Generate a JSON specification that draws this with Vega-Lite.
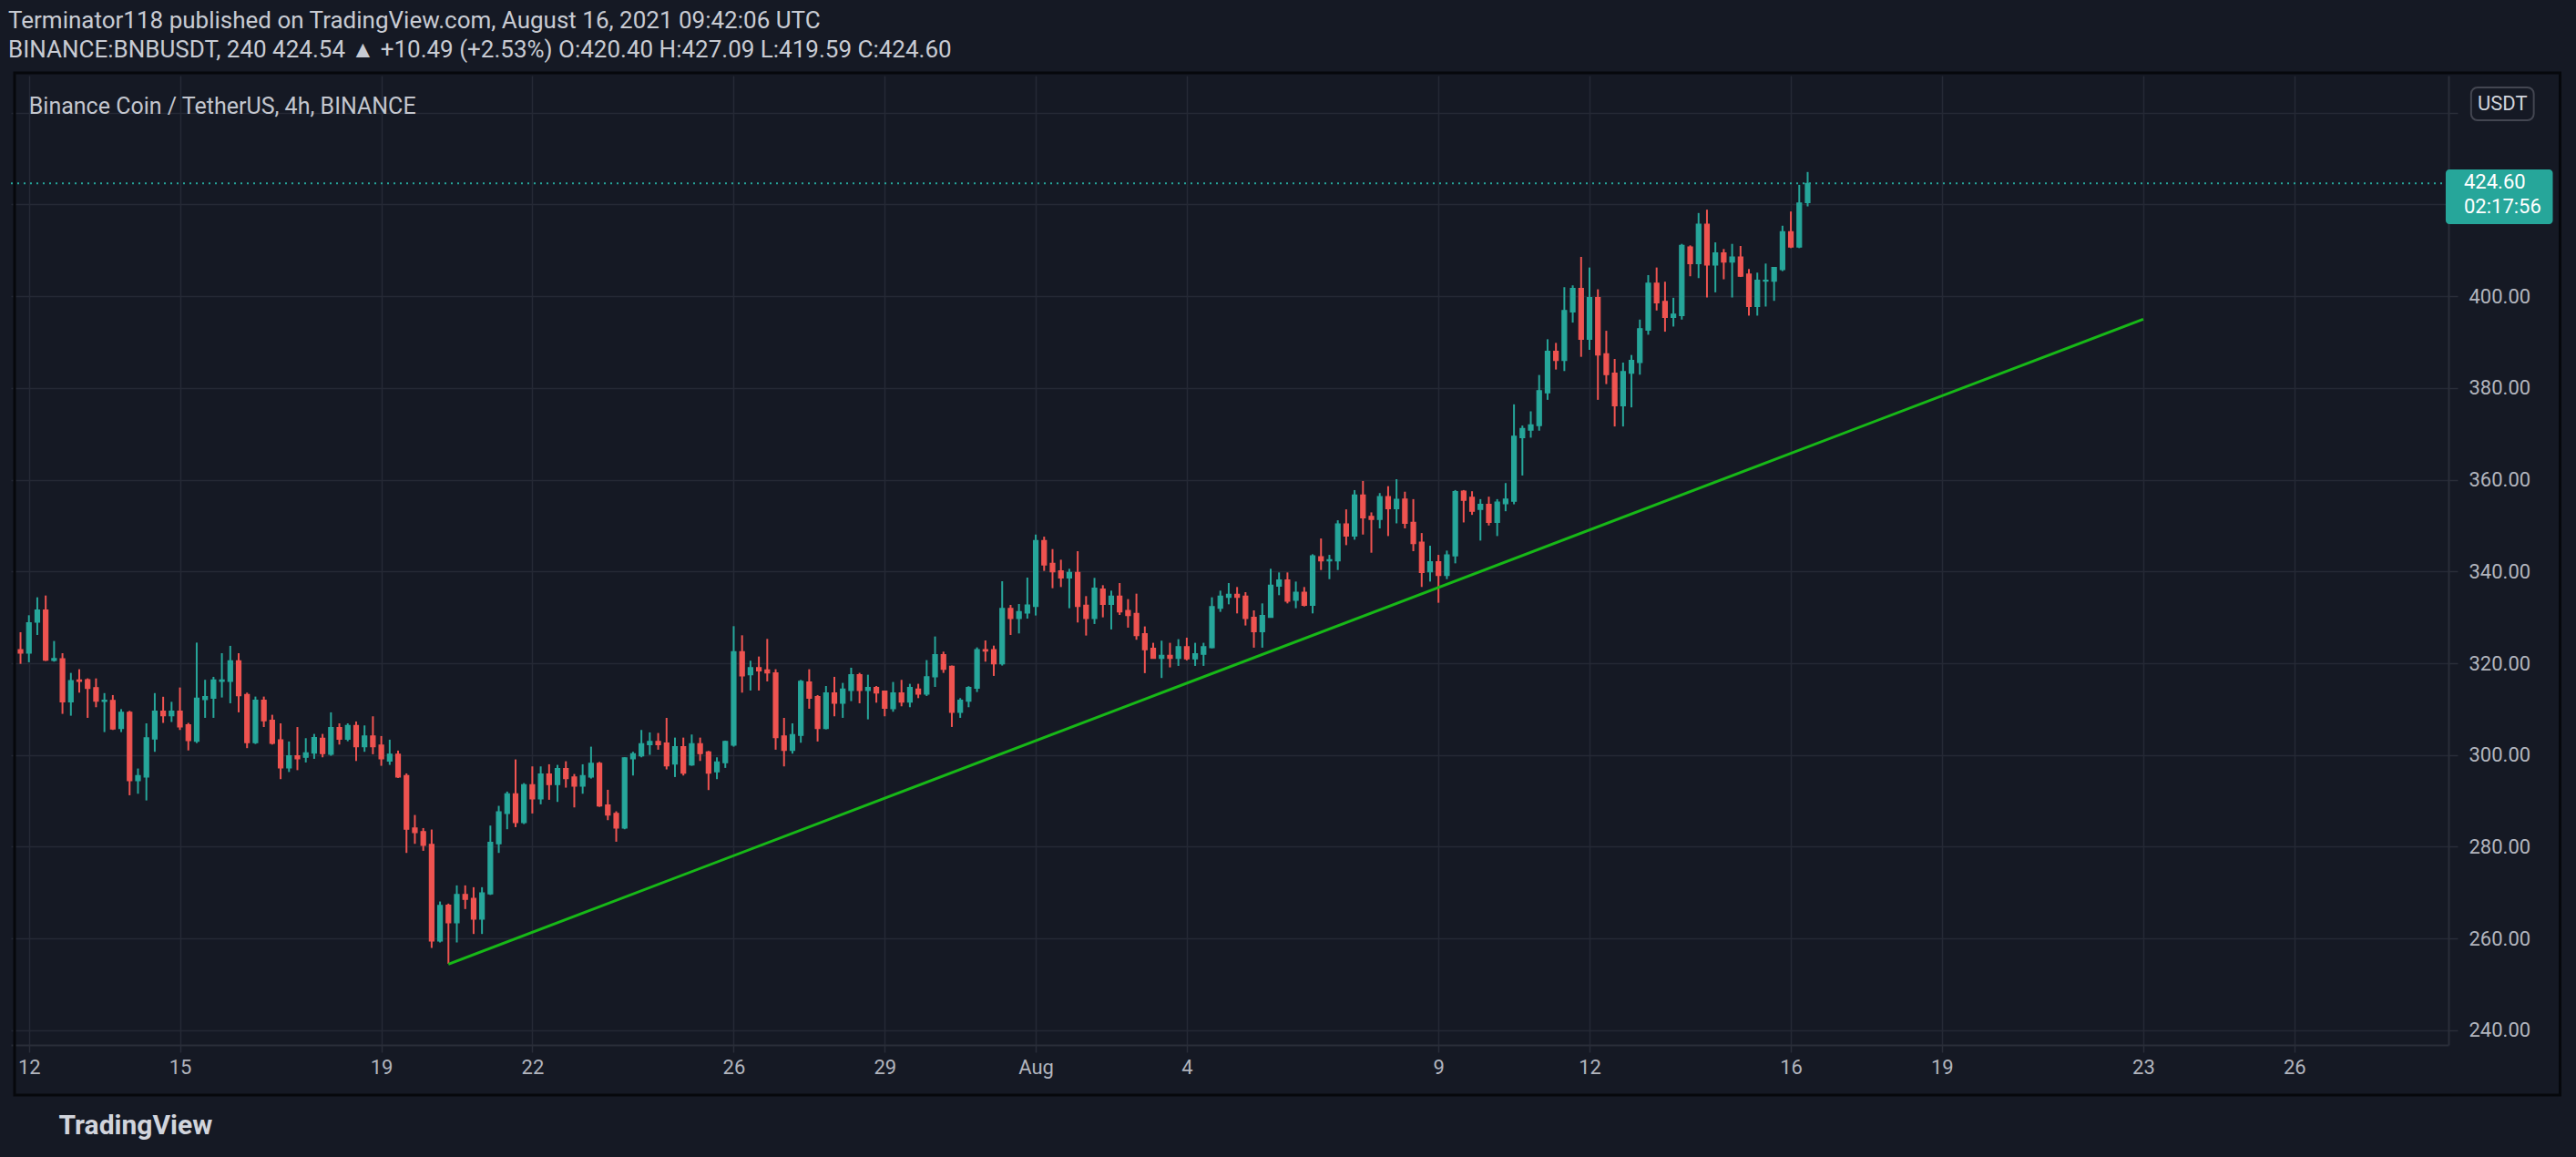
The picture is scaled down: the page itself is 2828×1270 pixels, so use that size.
{
  "$schema": "https://vega.github.io/schema/vega-lite/v6.json",
  "width": 2676,
  "height": 1064,
  "autosize": {"type": "none"},
  "padding": {"left": 12, "top": 83, "right": 140, "bottom": 123},
  "background": "#151924",
  "config": {"view": {"stroke": null}, "font": "Roboto"},
  "title": {
    "text": "Terminator118 published on TradingView.com, August 16, 2021 09:42:06 UTC",
    "subtitle": "BINANCE:BNBUSDT, 240  424.54 ▲ +10.49 (+2.53%)  O:420.40  H:427.09  L:419.59  C:424.60",
    "anchor": "start",
    "frame": "group",
    "orient": "top",
    "offset": 10,
    "dx": -3,
    "font": "Roboto",
    "fontSize": 26,
    "fontWeight": "normal",
    "color": "#c8cbd3",
    "subtitleFont": "Roboto",
    "subtitleFontSize": 26,
    "subtitleColor": "#c8cbd3",
    "subtitlePadding": 6
  },
  "datasets": {
    "candles": [
      {"t":"2021-07-11T20:00:00Z","o":322.99,"h":326.77,"l":319.88,"c":322.20},
      {"t":"2021-07-12T00:00:00Z","o":322.20,"h":330.47,"l":320.22,"c":328.82},
      {"t":"2021-07-12T04:00:00Z","o":328.95,"h":334.38,"l":326.17,"c":331.60},
      {"t":"2021-07-12T08:00:00Z","o":331.60,"h":334.77,"l":320.50,"c":320.68},
      {"t":"2021-07-12T12:00:00Z","o":320.61,"h":324.85,"l":320.35,"c":321.01},
      {"t":"2021-07-12T16:00:00Z","o":321.00,"h":322.20,"l":308.97,"c":311.61},
      {"t":"2021-07-12T20:00:00Z","o":311.61,"h":317.90,"l":308.57,"c":316.24},
      {"t":"2021-07-13T00:00:00Z","o":316.38,"h":318.70,"l":313.60,"c":316.05},
      {"t":"2021-07-13T04:00:00Z","o":316.40,"h":316.71,"l":308.10,"c":314.52},
      {"t":"2021-07-13T08:00:00Z","o":314.70,"h":316.70,"l":310.42,"c":311.75},
      {"t":"2021-07-13T12:00:00Z","o":311.68,"h":313.50,"l":305.00,"c":311.94},
      {"t":"2021-07-13T16:00:00Z","o":311.90,"h":313.07,"l":305.46,"c":305.66},
      {"t":"2021-07-13T20:00:00Z","o":305.80,"h":310.00,"l":305.00,"c":309.30},
      {"t":"2021-07-14T00:00:00Z","o":309.30,"h":309.63,"l":291.23,"c":294.40},
      {"t":"2021-07-14T04:00:00Z","o":294.40,"h":297.06,"l":291.56,"c":295.50},
      {"t":"2021-07-14T08:00:00Z","o":295.20,"h":306.90,"l":290.10,"c":303.74},
      {"t":"2021-07-14T12:00:00Z","o":303.50,"h":313.50,"l":300.70,"c":309.56},
      {"t":"2021-07-14T16:00:00Z","o":309.56,"h":312.70,"l":307.00,"c":308.57},
      {"t":"2021-07-14T20:00:00Z","o":308.57,"h":311.60,"l":307.20,"c":309.56},
      {"t":"2021-07-15T00:00:00Z","o":309.56,"h":314.72,"l":305.46,"c":306.12},
      {"t":"2021-07-15T04:00:00Z","o":306.60,"h":307.00,"l":301.00,"c":303.15},
      {"t":"2021-07-15T08:00:00Z","o":303.00,"h":324.50,"l":302.60,"c":312.40},
      {"t":"2021-07-15T12:00:00Z","o":312.08,"h":316.40,"l":308.10,"c":312.74},
      {"t":"2021-07-15T16:00:00Z","o":312.40,"h":317.04,"l":308.10,"c":316.38},
      {"t":"2021-07-15T20:00:00Z","o":316.05,"h":322.20,"l":312.54,"c":316.38},
      {"t":"2021-07-16T00:00:00Z","o":316.05,"h":323.80,"l":311.28,"c":320.55},
      {"t":"2021-07-16T04:00:00Z","o":320.55,"h":322.20,"l":309.30,"c":312.93},
      {"t":"2021-07-16T08:00:00Z","o":313.20,"h":313.60,"l":301.50,"c":302.68},
      {"t":"2021-07-16T12:00:00Z","o":302.68,"h":312.74,"l":302.40,"c":311.94},
      {"t":"2021-07-16T16:00:00Z","o":311.94,"h":312.74,"l":306.10,"c":307.45},
      {"t":"2021-07-16T20:00:00Z","o":307.60,"h":308.77,"l":302.28,"c":302.55},
      {"t":"2021-07-17T00:00:00Z","o":303.30,"h":306.90,"l":294.74,"c":297.19},
      {"t":"2021-07-17T04:00:00Z","o":297.19,"h":302.95,"l":296.30,"c":299.84},
      {"t":"2021-07-17T08:00:00Z","o":299.84,"h":306.10,"l":296.70,"c":299.17},
      {"t":"2021-07-17T12:00:00Z","o":299.50,"h":303.67,"l":298.38,"c":300.50},
      {"t":"2021-07-17T16:00:00Z","o":300.40,"h":304.60,"l":299.17,"c":303.80},
      {"t":"2021-07-17T20:00:00Z","o":303.67,"h":304.60,"l":299.50,"c":300.30},
      {"t":"2021-07-18T00:00:00Z","o":300.17,"h":309.30,"l":299.84,"c":305.99},
      {"t":"2021-07-18T04:00:00Z","o":306.00,"h":306.90,"l":302.28,"c":303.47},
      {"t":"2021-07-18T08:00:00Z","o":303.47,"h":306.90,"l":303.00,"c":306.45},
      {"t":"2021-07-18T12:00:00Z","o":306.45,"h":307.31,"l":298.70,"c":301.82},
      {"t":"2021-07-18T16:00:00Z","o":301.82,"h":306.45,"l":300.70,"c":304.14},
      {"t":"2021-07-18T20:00:00Z","o":304.14,"h":308.44,"l":300.17,"c":301.82},
      {"t":"2021-07-19T00:00:00Z","o":302.15,"h":304.14,"l":297.65,"c":299.17},
      {"t":"2021-07-19T04:00:00Z","o":298.70,"h":303.34,"l":297.85,"c":300.17},
      {"t":"2021-07-19T08:00:00Z","o":300.17,"h":300.96,"l":295.00,"c":295.20},
      {"t":"2021-07-19T12:00:00Z","o":295.50,"h":295.99,"l":278.66,"c":283.82},
      {"t":"2021-07-19T16:00:00Z","o":284.08,"h":286.93,"l":280.64,"c":283.10},
      {"t":"2021-07-19T20:00:00Z","o":283.30,"h":284.08,"l":279.12,"c":280.30},
      {"t":"2021-07-20T00:00:00Z","o":280.50,"h":283.76,"l":257.95,"c":259.47},
      {"t":"2021-07-20T04:00:00Z","o":259.47,"h":268.07,"l":259.14,"c":267.21},
      {"t":"2021-07-20T08:00:00Z","o":267.28,"h":267.61,"l":254.50,"c":263.44},
      {"t":"2021-07-20T12:00:00Z","o":263.44,"h":271.58,"l":259.14,"c":269.60},
      {"t":"2021-07-20T16:00:00Z","o":269.60,"h":271.58,"l":266.42,"c":268.53},
      {"t":"2021-07-20T20:00:00Z","o":268.73,"h":271.18,"l":260.99,"c":264.24},
      {"t":"2021-07-21T00:00:00Z","o":264.24,"h":271.18,"l":260.99,"c":269.93},
      {"t":"2021-07-21T04:00:00Z","o":269.73,"h":284.62,"l":269.50,"c":280.98},
      {"t":"2021-07-21T08:00:00Z","o":280.65,"h":288.92,"l":278.66,"c":287.60},
      {"t":"2021-07-21T12:00:00Z","o":287.26,"h":292.03,"l":283.82,"c":291.56},
      {"t":"2021-07-21T16:00:00Z","o":291.56,"h":299.04,"l":284.28,"c":285.28},
      {"t":"2021-07-21T20:00:00Z","o":285.28,"h":293.88,"l":284.95,"c":293.55},
      {"t":"2021-07-22T00:00:00Z","o":293.55,"h":297.52,"l":287.26,"c":290.44},
      {"t":"2021-07-22T04:00:00Z","o":290.44,"h":297.52,"l":289.25,"c":295.86},
      {"t":"2021-07-22T08:00:00Z","o":295.86,"h":297.98,"l":290.24,"c":293.55},
      {"t":"2021-07-22T12:00:00Z","o":293.55,"h":297.85,"l":289.78,"c":297.06},
      {"t":"2021-07-22T16:00:00Z","o":297.06,"h":298.64,"l":292.89,"c":294.87},
      {"t":"2021-07-22T20:00:00Z","o":295.20,"h":295.86,"l":288.58,"c":293.22},
      {"t":"2021-07-23T00:00:00Z","o":293.22,"h":297.98,"l":291.56,"c":295.53},
      {"t":"2021-07-23T04:00:00Z","o":295.20,"h":301.82,"l":294.87,"c":298.18},
      {"t":"2021-07-23T08:00:00Z","o":298.18,"h":298.50,"l":288.70,"c":288.92},
      {"t":"2021-07-23T12:00:00Z","o":289.10,"h":292.42,"l":285.80,"c":286.93},
      {"t":"2021-07-23T16:00:00Z","o":287.26,"h":287.73,"l":281.10,"c":284.08},
      {"t":"2021-07-23T20:00:00Z","o":284.08,"h":299.50,"l":283.82,"c":299.37},
      {"t":"2021-07-24T00:00:00Z","o":299.17,"h":300.70,"l":295.53,"c":300.30},
      {"t":"2021-07-24T04:00:00Z","o":299.84,"h":305.46,"l":299.50,"c":302.48},
      {"t":"2021-07-24T08:00:00Z","o":302.28,"h":304.93,"l":300.04,"c":302.95},
      {"t":"2021-07-24T12:00:00Z","o":302.95,"h":304.80,"l":301.16,"c":302.28},
      {"t":"2021-07-24T16:00:00Z","o":302.61,"h":308.10,"l":296.86,"c":297.65},
      {"t":"2021-07-24T20:00:00Z","o":298.05,"h":303.80,"l":295.20,"c":301.82},
      {"t":"2021-07-25T00:00:00Z","o":301.82,"h":303.80,"l":295.53,"c":296.06},
      {"t":"2021-07-25T04:00:00Z","o":297.85,"h":304.47,"l":297.65,"c":302.48},
      {"t":"2021-07-25T08:00:00Z","o":302.48,"h":303.80,"l":298.71,"c":300.30},
      {"t":"2021-07-25T12:00:00Z","o":300.70,"h":300.90,"l":292.36,"c":296.06},
      {"t":"2021-07-25T16:00:00Z","o":296.33,"h":299.50,"l":294.74,"c":298.51},
      {"t":"2021-07-25T20:00:00Z","o":298.31,"h":303.14,"l":297.19,"c":302.95},
      {"t":"2021-07-26T00:00:00Z","o":302.15,"h":328.09,"l":301.82,"c":322.53},
      {"t":"2021-07-26T04:00:00Z","o":322.53,"h":326.10,"l":313.60,"c":317.24},
      {"t":"2021-07-26T08:00:00Z","o":317.50,"h":320.55,"l":314.06,"c":319.03},
      {"t":"2021-07-26T12:00:00Z","o":319.03,"h":321.47,"l":314.06,"c":318.36},
      {"t":"2021-07-26T16:00:00Z","o":318.56,"h":325.31,"l":316.05,"c":317.90},
      {"t":"2021-07-26T20:00:00Z","o":317.90,"h":318.70,"l":301.16,"c":303.80},
      {"t":"2021-07-27T00:00:00Z","o":304.14,"h":308.10,"l":297.52,"c":301.03},
      {"t":"2021-07-27T04:00:00Z","o":301.03,"h":306.90,"l":300.30,"c":304.47},
      {"t":"2021-07-27T08:00:00Z","o":304.27,"h":316.38,"l":302.68,"c":316.05},
      {"t":"2021-07-27T12:00:00Z","o":315.92,"h":318.70,"l":310.09,"c":312.40},
      {"t":"2021-07-27T16:00:00Z","o":312.74,"h":313.07,"l":302.95,"c":305.79},
      {"t":"2021-07-27T20:00:00Z","o":305.79,"h":315.05,"l":305.59,"c":313.53},
      {"t":"2021-07-28T00:00:00Z","o":313.53,"h":317.04,"l":308.44,"c":311.28},
      {"t":"2021-07-28T04:00:00Z","o":311.28,"h":315.72,"l":308.10,"c":314.39},
      {"t":"2021-07-28T08:00:00Z","o":314.06,"h":319.03,"l":311.75,"c":317.50},
      {"t":"2021-07-28T12:00:00Z","o":317.50,"h":317.90,"l":311.28,"c":314.06},
      {"t":"2021-07-28T16:00:00Z","o":314.06,"h":317.50,"l":307.77,"c":314.72},
      {"t":"2021-07-28T20:00:00Z","o":314.72,"h":315.05,"l":311.41,"c":313.53},
      {"t":"2021-07-29T00:00:00Z","o":313.93,"h":314.06,"l":308.44,"c":310.22},
      {"t":"2021-07-29T04:00:00Z","o":310.09,"h":315.92,"l":309.43,"c":313.53},
      {"t":"2021-07-29T08:00:00Z","o":313.53,"h":316.38,"l":310.62,"c":311.55},
      {"t":"2021-07-29T12:00:00Z","o":311.55,"h":315.52,"l":310.42,"c":314.72},
      {"t":"2021-07-29T16:00:00Z","o":314.39,"h":315.52,"l":312.40,"c":313.27},
      {"t":"2021-07-29T20:00:00Z","o":313.27,"h":320.68,"l":312.87,"c":317.04},
      {"t":"2021-07-30T00:00:00Z","o":317.04,"h":325.84,"l":314.85,"c":321.87},
      {"t":"2021-07-30T04:00:00Z","o":321.87,"h":322.53,"l":317.90,"c":318.70},
      {"t":"2021-07-30T08:00:00Z","o":319.35,"h":319.50,"l":306.12,"c":309.30},
      {"t":"2021-07-30T12:00:00Z","o":309.30,"h":312.40,"l":308.10,"c":311.94},
      {"t":"2021-07-30T16:00:00Z","o":311.75,"h":315.00,"l":310.42,"c":314.72},
      {"t":"2021-07-30T20:00:00Z","o":314.59,"h":323.46,"l":313.73,"c":322.99},
      {"t":"2021-07-31T00:00:00Z","o":322.99,"h":324.98,"l":320.35,"c":322.66},
      {"t":"2021-07-31T04:00:00Z","o":322.99,"h":323.85,"l":317.24,"c":319.88},
      {"t":"2021-07-31T08:00:00Z","o":319.88,"h":337.88,"l":319.50,"c":331.93},
      {"t":"2021-07-31T12:00:00Z","o":331.93,"h":332.72,"l":326.17,"c":329.74},
      {"t":"2021-07-31T16:00:00Z","o":329.74,"h":332.92,"l":326.50,"c":331.27},
      {"t":"2021-07-31T20:00:00Z","o":330.93,"h":338.68,"l":329.74,"c":332.72},
      {"t":"2021-08-01T00:00:00Z","o":332.39,"h":348.06,"l":330.41,"c":346.74},
      {"t":"2021-08-01T04:00:00Z","o":346.74,"h":347.60,"l":340.13,"c":341.45},
      {"t":"2021-08-01T08:00:00Z","o":341.78,"h":344.89,"l":336.36,"c":339.93},
      {"t":"2021-08-01T12:00:00Z","o":340.13,"h":342.57,"l":336.62,"c":338.61},
      {"t":"2021-08-01T16:00:00Z","o":338.61,"h":340.59,"l":332.00,"c":339.80},
      {"t":"2021-08-01T20:00:00Z","o":339.80,"h":344.43,"l":328.89,"c":332.39},
      {"t":"2021-08-02T00:00:00Z","o":332.66,"h":334.64,"l":326.04,"c":329.75},
      {"t":"2021-08-02T04:00:00Z","o":329.75,"h":338.61,"l":328.56,"c":336.36},
      {"t":"2021-08-02T08:00:00Z","o":336.16,"h":337.02,"l":330.01,"c":332.85},
      {"t":"2021-08-02T12:00:00Z","o":332.85,"h":335.83,"l":327.37,"c":334.64},
      {"t":"2021-08-02T16:00:00Z","o":334.64,"h":337.48,"l":330.54,"c":331.20},
      {"t":"2021-08-02T20:00:00Z","o":331.53,"h":333.98,"l":327.76,"c":330.41},
      {"t":"2021-08-03T00:00:00Z","o":330.87,"h":335.17,"l":325.12,"c":326.04},
      {"t":"2021-08-03T04:00:00Z","o":326.44,"h":328.03,"l":317.85,"c":322.94},
      {"t":"2021-08-03T08:00:00Z","o":323.27,"h":324.46,"l":321.00,"c":321.09},
      {"t":"2021-08-03T12:00:00Z","o":321.09,"h":324.92,"l":316.79,"c":321.75},
      {"t":"2021-08-03T16:00:00Z","o":321.75,"h":324.46,"l":319.10,"c":321.09},
      {"t":"2021-08-03T20:00:00Z","o":321.09,"h":325.25,"l":319.43,"c":323.60},
      {"t":"2021-08-04T00:00:00Z","o":323.60,"h":325.58,"l":320.62,"c":320.95},
      {"t":"2021-08-04T04:00:00Z","o":320.95,"h":324.46,"l":319.43,"c":322.08},
      {"t":"2021-08-04T08:00:00Z","o":321.95,"h":324.46,"l":319.43,"c":323.60},
      {"t":"2021-08-04T12:00:00Z","o":323.40,"h":334.38,"l":323.27,"c":332.33},
      {"t":"2021-08-04T16:00:00Z","o":332.00,"h":335.83,"l":331.20,"c":334.64},
      {"t":"2021-08-04T20:00:00Z","o":334.38,"h":337.48,"l":332.85,"c":335.04},
      {"t":"2021-08-05T00:00:00Z","o":335.04,"h":336.62,"l":330.87,"c":334.38},
      {"t":"2021-08-05T04:00:00Z","o":334.64,"h":335.50,"l":328.23,"c":329.75},
      {"t":"2021-08-05T08:00:00Z","o":330.01,"h":331.53,"l":323.40,"c":326.90},
      {"t":"2021-08-05T12:00:00Z","o":326.90,"h":333.05,"l":323.40,"c":330.41},
      {"t":"2021-08-05T16:00:00Z","o":330.01,"h":340.59,"l":330.00,"c":337.02},
      {"t":"2021-08-05T20:00:00Z","o":336.82,"h":339.80,"l":334.84,"c":338.15},
      {"t":"2021-08-06T00:00:00Z","o":338.15,"h":339.80,"l":333.05,"c":333.52},
      {"t":"2021-08-06T04:00:00Z","o":333.72,"h":337.81,"l":332.00,"c":335.50},
      {"t":"2021-08-06T08:00:00Z","o":335.50,"h":336.62,"l":332.39,"c":332.66},
      {"t":"2021-08-06T12:00:00Z","o":332.66,"h":343.77,"l":330.87,"c":343.43},
      {"t":"2021-08-06T16:00:00Z","o":343.24,"h":347.20,"l":340.33,"c":342.31},
      {"t":"2021-08-06T20:00:00Z","o":342.31,"h":343.63,"l":338.34,"c":342.57},
      {"t":"2021-08-07T00:00:00Z","o":342.31,"h":351.17,"l":340.33,"c":350.38},
      {"t":"2021-08-07T04:00:00Z","o":350.38,"h":353.55,"l":345.75,"c":347.73},
      {"t":"2021-08-07T08:00:00Z","o":347.73,"h":357.75,"l":346.94,"c":356.66},
      {"t":"2021-08-07T12:00:00Z","o":356.66,"h":359.74,"l":348.06,"c":351.70},
      {"t":"2021-08-07T16:00:00Z","o":352.03,"h":352.89,"l":344.10,"c":351.37},
      {"t":"2021-08-07T20:00:00Z","o":351.37,"h":357.10,"l":349.40,"c":356.33},
      {"t":"2021-08-08T00:00:00Z","o":356.33,"h":358.60,"l":347.73,"c":353.68},
      {"t":"2021-08-08T04:00:00Z","o":353.68,"h":360.13,"l":350.50,"c":355.76},
      {"t":"2021-08-08T08:00:00Z","o":355.80,"h":357.40,"l":349.40,"c":350.51},
      {"t":"2021-08-08T12:00:00Z","o":350.70,"h":355.78,"l":344.43,"c":346.08},
      {"t":"2021-08-08T16:00:00Z","o":346.41,"h":348.39,"l":336.64,"c":339.81},
      {"t":"2021-08-08T20:00:00Z","o":339.93,"h":345.62,"l":337.81,"c":342.11},
      {"t":"2021-08-09T00:00:00Z","o":342.11,"h":343.63,"l":333.19,"c":339.14},
      {"t":"2021-08-09T04:00:00Z","o":339.14,"h":344.56,"l":338.34,"c":343.63},
      {"t":"2021-08-09T08:00:00Z","o":343.43,"h":357.76,"l":341.78,"c":357.40},
      {"t":"2021-08-09T12:00:00Z","o":357.50,"h":357.76,"l":350.70,"c":355.52},
      {"t":"2021-08-09T16:00:00Z","o":356.18,"h":357.50,"l":352.35,"c":353.14},
      {"t":"2021-08-09T20:00:00Z","o":353.54,"h":355.78,"l":346.74,"c":354.66},
      {"t":"2021-08-10T00:00:00Z","o":354.66,"h":356.31,"l":350.04,"c":350.70},
      {"t":"2021-08-10T04:00:00Z","o":350.70,"h":355.78,"l":347.73,"c":355.12},
      {"t":"2021-08-10T08:00:00Z","o":354.79,"h":359.28,"l":353.14,"c":355.78},
      {"t":"2021-08-10T12:00:00Z","o":355.32,"h":376.44,"l":354.66,"c":369.51},
      {"t":"2021-08-10T16:00:00Z","o":369.18,"h":371.82,"l":360.93,"c":371.16},
      {"t":"2021-08-10T20:00:00Z","o":370.83,"h":374.92,"l":369.18,"c":371.95},
      {"t":"2021-08-11T00:00:00Z","o":371.82,"h":382.84,"l":370.70,"c":379.41},
      {"t":"2021-08-11T04:00:00Z","o":378.95,"h":390.63,"l":377.43,"c":387.99},
      {"t":"2021-08-11T08:00:00Z","o":387.99,"h":389.84,"l":384.03,"c":386.01},
      {"t":"2021-08-11T12:00:00Z","o":386.01,"h":401.98,"l":383.70,"c":396.90},
      {"t":"2021-08-11T16:00:00Z","o":396.57,"h":402.38,"l":394.26,"c":401.72},
      {"t":"2021-08-11T20:00:00Z","o":401.72,"h":408.58,"l":386.80,"c":390.63},
      {"t":"2021-08-12T00:00:00Z","o":390.63,"h":406.27,"l":388.32,"c":399.74},
      {"t":"2021-08-12T04:00:00Z","o":399.74,"h":401.52,"l":377.43,"c":387.20},
      {"t":"2021-08-12T08:00:00Z","o":387.46,"h":392.48,"l":380.86,"c":382.91},
      {"t":"2021-08-12T12:00:00Z","o":383.24,"h":386.34,"l":371.62,"c":376.11},
      {"t":"2021-08-12T16:00:00Z","o":376.11,"h":385.55,"l":371.62,"c":383.57},
      {"t":"2021-08-12T20:00:00Z","o":383.24,"h":387.20,"l":375.78,"c":386.01},
      {"t":"2021-08-13T00:00:00Z","o":385.55,"h":394.92,"l":382.91,"c":392.94},
      {"t":"2021-08-13T04:00:00Z","o":392.61,"h":404.62,"l":391.62,"c":402.84},
      {"t":"2021-08-13T08:00:00Z","o":402.84,"h":406.27,"l":396.90,"c":398.55},
      {"t":"2021-08-13T12:00:00Z","o":398.88,"h":403.17,"l":392.28,"c":395.38},
      {"t":"2021-08-13T16:00:00Z","o":395.38,"h":399.67,"l":393.40,"c":396.11},
      {"t":"2021-08-13T20:00:00Z","o":395.78,"h":411.42,"l":394.92,"c":411.09},
      {"t":"2021-08-14T00:00:00Z","o":410.76,"h":411.09,"l":404.36,"c":407.13},
      {"t":"2021-08-14T04:00:00Z","o":407.13,"h":418.15,"l":403.96,"c":415.71},
      {"t":"2021-08-14T08:00:00Z","o":415.71,"h":418.88,"l":399.74,"c":406.80},
      {"t":"2021-08-14T12:00:00Z","o":406.80,"h":411.75,"l":400.86,"c":409.44},
      {"t":"2021-08-14T16:00:00Z","o":409.44,"h":410.30,"l":403.70,"c":407.46},
      {"t":"2021-08-14T20:00:00Z","o":407.46,"h":411.42,"l":399.74,"c":408.58},
      {"t":"2021-08-15T00:00:00Z","o":408.58,"h":410.96,"l":404.20,"c":404.36},
      {"t":"2021-08-15T04:00:00Z","o":404.82,"h":405.94,"l":395.78,"c":397.76},
      {"t":"2021-08-15T08:00:00Z","o":397.76,"h":405.15,"l":395.78,"c":403.50},
      {"t":"2021-08-15T12:00:00Z","o":403.30,"h":407.13,"l":397.76,"c":403.50},
      {"t":"2021-08-15T16:00:00Z","o":403.30,"h":406.34,"l":399.00,"c":406.27},
      {"t":"2021-08-15T20:00:00Z","o":405.81,"h":415.38,"l":405.48,"c":414.06},
      {"t":"2021-08-16T00:00:00Z","o":414.06,"h":418.48,"l":410.50,"c":410.76},
      {"t":"2021-08-16T04:00:00Z","o":410.76,"h":424.29,"l":410.50,"c":420.33},
      {"t":"2021-08-16T08:00:00Z","o":420.40,"h":427.09,"l":419.59,"c":424.60}
    ],
    "trend": [
      {"t":"2021-07-20T08:00:00Z","p":254.4},
      {"t":"2021-08-23T00:00:00Z","p":395.0}
    ]
  },
  "layer": [
    {
      "data": {"name": "candles"},
      "mark": {"type": "rule", "strokeWidth": 2},
      "encoding": {
        "x": {
          "field": "t", "type": "temporal",
          "scale": {"type": "utc", "domain": [
            {"year": 2021, "month": 7, "date": 11, "hours": 17, "minutes": 36, "utc": true},
            {"year": 2021, "month": 8, "date": 28, "hours": 23, "minutes": 20, "utc": true}
          ]},
          "axis": {
            "orient": "bottom",
            "values": [
              {"year": 2021, "month": 7, "date": 12, "utc": true},
              {"year": 2021, "month": 7, "date": 15, "utc": true},
              {"year": 2021, "month": 7, "date": 19, "utc": true},
              {"year": 2021, "month": 7, "date": 22, "utc": true},
              {"year": 2021, "month": 7, "date": 26, "utc": true},
              {"year": 2021, "month": 7, "date": 29, "utc": true},
              {"year": 2021, "month": 8, "date": 1, "utc": true},
              {"year": 2021, "month": 8, "date": 4, "utc": true},
              {"year": 2021, "month": 8, "date": 9, "utc": true},
              {"year": 2021, "month": 8, "date": 12, "utc": true},
              {"year": 2021, "month": 8, "date": 16, "utc": true},
              {"year": 2021, "month": 8, "date": 19, "utc": true},
              {"year": 2021, "month": 8, "date": 23, "utc": true},
              {"year": 2021, "month": 8, "date": 26, "utc": true}
            ],
            "labelExpr": "utcdate(datum.value) == 1 ? 'Aug' : '' + utcdate(datum.value)",
            "labelFlush": false,
            "labelOverlap": false,
            "labelColor": "#b2b5be",
            "labelFont": "Roboto",
            "labelFontSize": 22,
            "labelPadding": 6,
            "grid": true,
            "gridColor": "#252935",
            "gridWidth": 1.5,
            "domain": true,
            "domainColor": "#2a2e39",
            "domainWidth": 2,
            "ticks": true,
            "tickColor": "#2a2e39",
            "tickSize": 8,
            "tickWidth": 1.5,
            "title": "TradingView",
            "titleFont": "Roboto",
            "titleFontSize": 30,
            "titleFontWeight": "bold",
            "titleColor": "#d1d4dc",
            "titleAlign": "left",
            "titleBaseline": "middle",
            "titleAnchor": "start",
            "titleX": 52,
            "titleY": 88
          }
        },
        "y": {
          "field": "l", "type": "quantitative",
          "scale": {"domain": [236.8, 448.1], "nice": false, "zero": false},
          "axis": {
            "orient": "right",
            "values": [240, 260, 280, 300, 320, 340, 360, 380, 400, 420, 440],
            "labelExpr": "datum.value >= 420 ? '' : format(datum.value, '.2f')",
            "labelColor": "#b2b5be",
            "labelFont": "Roboto",
            "labelFontSize": 22,
            "labelPadding": 12,
            "labelBaseline": "middle",
            "labelFlush": false,
            "labelOverlap": false,
            "grid": true,
            "gridColor": "#252935",
            "gridWidth": 1.5,
            "domain": true,
            "domainColor": "#2a2e39",
            "domainWidth": 2,
            "ticks": true,
            "tickColor": "#2a2e39",
            "tickSize": 10,
            "tickWidth": 1.5,
            "title": null
          }
        },
        "y2": {"field": "h"},
        "color": {"condition": {"test": "datum.c >= datum.o", "value": "#26a69a"}, "value": "#ef5350"}
      }
    },
    {
      "data": {"name": "candles"},
      "mark": {"type": "bar", "size": 5, "strokeWidth": 1.2},
      "encoding": {
        "x": {"field": "t", "type": "temporal", "scale": {"type": "utc"}},
        "y": {"field": "o", "type": "quantitative"},
        "y2": {"field": "c"},
        "fill": {"condition": {"test": "datum.c >= datum.o", "value": "#26a69a"}, "value": "#ef5350"},
        "stroke": {"condition": {"test": "datum.c >= datum.o", "value": "#26a69a"}, "value": "#ef5350"}
      }
    },
    {
      "data": {"name": "trend"},
      "mark": {"type": "line", "color": "#17b817", "strokeWidth": 3},
      "encoding": {
        "x": {"field": "t", "type": "temporal", "scale": {"type": "utc"}},
        "y": {"field": "p", "type": "quantitative"}
      }
    },
    {
      "data": {"values": [{}]},
      "mark": {"type": "rule", "color": "#26a69a", "strokeWidth": 2, "strokeDash": [2, 5]},
      "encoding": {
        "y": {"datum": 424.6, "type": "quantitative"}
      }
    },
    {
      "data": {"values": [{}]},
      "mark": {"type": "rect", "color": "#26a69a", "cornerRadius": 4},
      "encoding": {
        "x": {"datum": {"year": 2021, "month": 8, "date": 29, "hours": 0, "minutes": 11, "utc": true}, "type": "temporal", "scale": {"type": "utc"}},
        "x2": {"datum": {"year": 2021, "month": 8, "date": 31, "hours": 3, "minutes": 14, "utc": true}},
        "y": {"datum": 427.65, "type": "quantitative"},
        "y2": {"datum": 415.73}
      }
    },
    {
      "data": {"values": [{}]},
      "mark": {"type": "text", "text": ["424.60", "02:17:56"], "align": "left", "baseline": "top", "dy": -11, "lineHeight": 27, "font": "Roboto", "fontSize": 22, "color": "#ffffff"},
      "encoding": {
        "x": {"datum": {"year": 2021, "month": 8, "date": 29, "hours": 8, "minutes": 53, "utc": true}, "type": "temporal", "scale": {"type": "utc"}},
        "y": {"datum": 424.6, "type": "quantitative"}
      }
    },
    {
      "data": {"values": [{}]},
      "mark": {"type": "rect", "fill": "#151924", "stroke": "#434651", "strokeWidth": 2, "cornerRadius": 7},
      "encoding": {
        "x": {"datum": {"year": 2021, "month": 8, "date": 29, "hours": 12, "minutes": 18, "utc": true}, "type": "temporal", "scale": {"type": "utc"}},
        "x2": {"datum": {"year": 2021, "month": 8, "date": 30, "hours": 18, "minutes": 10, "utc": true}},
        "y": {"datum": 445.52, "type": "quantitative"},
        "y2": {"datum": 438.37}
      }
    },
    {
      "data": {"values": [{}]},
      "mark": {"type": "text", "text": "USDT", "align": "center", "baseline": "middle", "font": "Roboto", "fontSize": 22, "color": "#d1d4dc"},
      "encoding": {
        "x": {"datum": {"year": 2021, "month": 8, "date": 30, "hours": 3, "minutes": 14, "utc": true}, "type": "temporal", "scale": {"type": "utc"}},
        "y": {"datum": 441.94, "type": "quantitative"}
      }
    },
    {
      "data": {"values": [{}]},
      "mark": {"type": "text", "text": "Binance Coin / TetherUS, 4h, BINANCE", "align": "left", "baseline": "middle", "font": "Roboto", "fontSize": 25, "color": "#c3c6ce"},
      "encoding": {
        "x": {"datum": {"year": 2021, "month": 7, "date": 12, "utc": true}, "type": "temporal", "scale": {"type": "utc"}},
        "y": {"datum": 441.35, "type": "quantitative"}
      }
    },
    {
      "data": {"values": [{}]},
      "mark": {"type": "rect", "fillOpacity": 0, "stroke": "#06080c", "strokeWidth": 3},
      "encoding": {
        "x": {"datum": {"year": 2021, "month": 7, "date": 11, "hours": 17, "minutes": 10, "utc": true}, "type": "temporal", "scale": {"type": "utc"}},
        "x2": {"datum": {"year": 2021, "month": 8, "date": 31, "hours": 6, "minutes": 43, "utc": true}},
        "y": {"datum": 448.7, "type": "quantitative"},
        "y2": {"datum": 225.9}
      }
    }
  ]
}
